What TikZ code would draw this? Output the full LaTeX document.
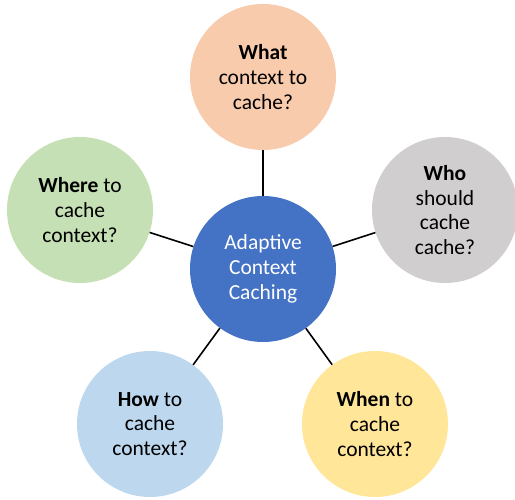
\documentclass[tikz,border=0pt]{standalone}
\usepackage{fontspec}
\setmainfont{Carlito}
\usepackage{tikz}

\definecolor{c_peach}{HTML}{F8CBAD}
\definecolor{c_grey}{HTML}{D0CECE}
\definecolor{c_green}{HTML}{C5E0B4}
\definecolor{c_sky}{HTML}{BDD7EE}
\definecolor{c_sand}{HTML}{FFE699}
\definecolor{c_core}{HTML}{4472C4}

\begin{document}
\begin{tikzpicture}[x=1pt,y=-1pt,
  bubble/.style={circle,minimum size=146pt,inner sep=0pt,align=center,
    font=\fontsize{21.5}{24.8}\selectfont},
  spoke/.style={line width=1.6pt,black}]

\useasboundingbox (0,0) rectangle (515,500) ;

\node[bubble,fill=c_core,text=white] (n_core) at (263,269) {Adaptive\\Context\\Caching} ;

\node[bubble,fill=c_peach] (n_what) at (263,77) {\textbf{What}\\context to\\cache?} ;
\node[bubble,fill=c_grey] (n_who) at (445,210) {\textbf{Who}\\should\\cache\\cache?} ;
\node[bubble,fill=c_sand] (n_when) at (375,424) {\textbf{When} to\\cache\\context?} ;
\node[bubble,fill=c_sky] (n_how) at (150,424) {\textbf{How} to\\cache\\context?} ;
\node[bubble,fill=c_green] (n_where) at (80,210) {\textbf{Where} to\\cache\\context?} ;

\draw[spoke] (n_core) -- (n_what) ;
\draw[spoke] (n_core) -- (n_who) ;
\draw[spoke] (n_core) -- (n_when) ;
\draw[spoke] (n_core) -- (n_how) ;
\draw[spoke] (n_core) -- (n_where) ;

\end{tikzpicture}
\end{document}
